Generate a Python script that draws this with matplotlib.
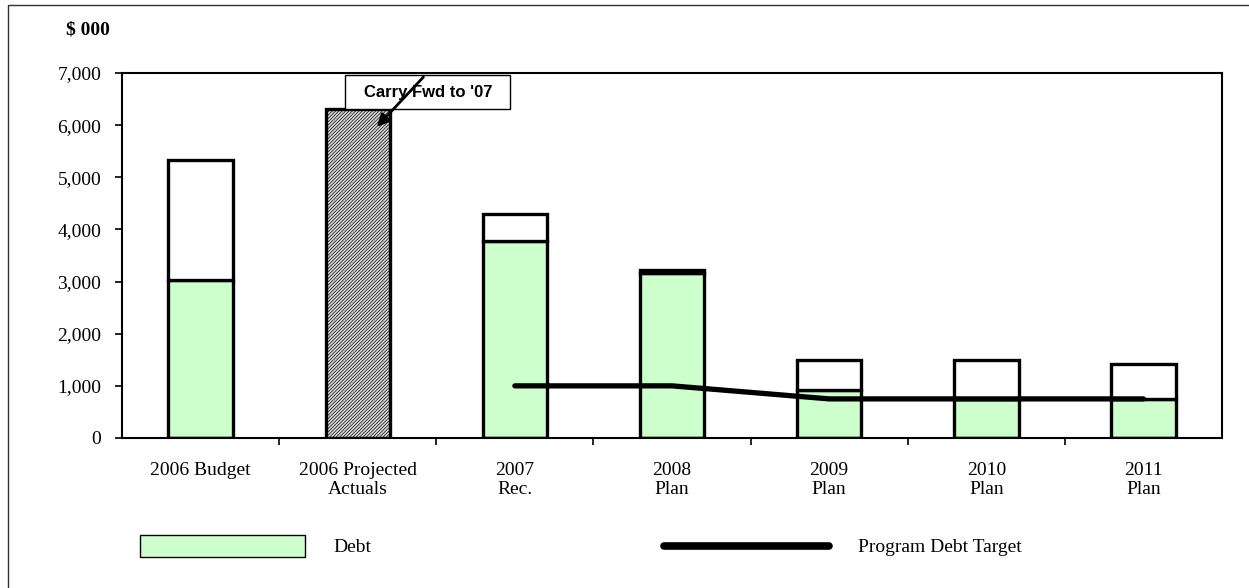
import matplotlib
matplotlib.use("Agg")
import matplotlib.pyplot as plt
from matplotlib.patches import Rectangle
from matplotlib.lines import Line2D

# values in $000
categories = ["2006 Budget", "2006 Projected\nActuals", "2007\nRec.", "2008\nPlan",
              "2009\nPlan", "2010\nPlan", "2011\nPlan"]
debt = [3030, 0, 3780, 3160, 920, 750, 740]
non_debt = [2300, 0, 510, 70, 570, 750, 680]
carry_fwd = [0, 6310, 0, 0, 0, 0, 0]
target_idx = [2, 3, 4, 5, 6]
target = [1000, 1000, 750, 750, 750]

plt.rcParams["font.family"] = ["Liberation Serif", "DejaVu Serif"]
plt.rcParams["hatch.linewidth"] = 0.5
plt.rcParams["hatch.color"] = "#505050"

fig = plt.figure(figsize=(12.49, 5.88), dpi=100)
W, H = 1249, 588
ax = fig.add_axes([122 / W, 1 - 438 / H, 1100 / W, 365 / H])

x = list(range(len(categories)))
bw = 0.41
ax.bar(x, debt, bw, color="#ccffcc", edgecolor="black", linewidth=2.4, zorder=2)
ax.bar(x, non_debt, bw, bottom=debt, color="white", edgecolor="black", linewidth=2.4, zorder=2)
ax.bar(x, carry_fwd, bw, color="#dcdcdc", edgecolor="black", linewidth=2.4,
       hatch="//////////", zorder=2)
ax.plot(target_idx, target, color="black", linewidth=3.8, solid_capstyle="round",
        solid_joinstyle="round", zorder=5)

ax.set_xlim(-0.5, len(categories) - 0.5)
ax.set_ylim(0, 7000)
ax.set_yticks(range(0, 7001, 1000))
ax.set_yticklabels([f"{v:,}" for v in range(0, 7001, 1000)])
ax.set_xticks(x)
ax.set_xticklabels(categories, linespacing=1.2)
ax.set_xticks([i + 0.5 for i in x[:-1]], minor=True)
ax.tick_params(axis="x", which="major", length=0, pad=17, labelsize=14)
ax.tick_params(axis="x", which="minor", length=5, width=1.2, direction="out")
ax.tick_params(axis="y", length=5, width=1.2, direction="out", pad=10, labelsize=14)
for s in ax.spines.values():
    s.set_linewidth(1.5)

# carry forward callout
ax.add_patch(Rectangle((0.203, 0.901), 0.15, 0.093, transform=ax.transAxes,
                       facecolor="white", edgecolor="black", linewidth=1, zorder=6))
ax.text(0.278, 0.947, "Carry Fwd to '07", transform=ax.transAxes, ha="center", va="center",
        fontsize=12, fontweight="bold", family=["Liberation Sans"], zorder=7)
ax.annotate("", xy=(1.11, 5930), xytext=(1.43, 6960),
            arrowprops=dict(arrowstyle="-|>", color="black", lw=2, mutation_scale=18),
            zorder=8, annotation_clip=False)

fig.text(88 / W, 1 - 30 / H, "$ 000", ha="center", va="center", fontsize=14, fontweight="bold")

# legend
fig.patches.append(Rectangle((140 / W, 1 - 557 / H), 165 / W, 22 / H, transform=fig.transFigure,
                             facecolor="#ccffcc", edgecolor="black", linewidth=1))
fig.text(333 / W, 1 - 547 / H, "Debt", ha="left", va="center", fontsize=14)
fig.lines.append(Line2D([664 / W, 829 / W], [1 - 546 / H] * 2, transform=fig.transFigure,
                        color="black", linewidth=5.5, solid_capstyle="round"))
fig.text(858 / W, 1 - 547 / H, "Program Debt Target", ha="left", va="center", fontsize=14)

# outer frame
fig.patches.append(Rectangle((8 / W, -0.1), 1.2, 1 - 5 / H + 0.1, transform=fig.transFigure,
                             facecolor="none", edgecolor="#333333", linewidth=1))

fig.savefig("out.png", dpi=100)
